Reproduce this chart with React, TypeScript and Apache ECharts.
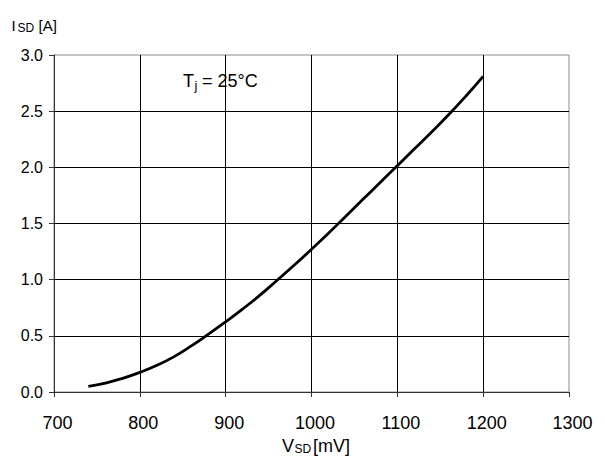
import React, { useEffect, useRef } from "react";
import * as echarts from "echarts";

const vsd = [740, 760, 780, 800, 820, 840, 860, 880, 900, 920, 940, 960, 980, 1000, 1020, 1040, 1060, 1080, 1100, 1120, 1140, 1160, 1180, 1200];
const isd = [0.05, 0.08, 0.122, 0.175, 0.238, 0.315, 0.41, 0.515, 0.625, 0.74, 0.862, 0.995, 1.13, 1.27, 1.415, 1.565, 1.715, 1.865, 2.015, 2.165, 2.315, 2.47, 2.635, 2.81];
const xTicks = [700, 1300, 100];
const yTicks = [0, 3, 0.5];

const FONT = "'Liberation Sans', Arial, sans-serif";

export default function App() {
  const ref = useRef<HTMLDivElement>(null);
  useEffect(() => {
    document.body.style.margin = "0";
    const chart = echarts.init(ref.current!, null, { renderer: "svg" });
    const t = (text: string, x: number, y: number, size: number) => ({
      type: "text",
      x,
      y,
      style: { text, font: `${size}px ${FONT}`, fill: "#000", verticalAlign: "middle", align: "left" },
    });
    chart.setOption({
      animation: false,
      grid: { left: 54, right: 36, top: 55, bottom: 71, show: true, borderColor: "#8c8c8c", borderWidth: 1 },
      xAxis: {
        type: "value",
        min: xTicks[0],
        max: xTicks[1],
        interval: xTicks[2],
        axisLine: { show: true, lineStyle: { color: "#333", width: 1 } },
        axisTick: { show: true, length: 5, lineStyle: { color: "#333" } },
        axisLabel: { color: "#000", fontSize: 18, fontFamily: FONT, margin: 22, padding: [0, 0, 0, 7], formatter: (v: number) => String(v) },
        splitLine: { show: true, showMinLine: false, showMaxLine: false, lineStyle: { color: "#000", width: 1 } },
      },
      yAxis: {
        type: "value",
        min: yTicks[0],
        max: yTicks[1],
        interval: yTicks[2],
        axisLine: { show: true, lineStyle: { color: "#333", width: 1 } },
        axisTick: { show: true, length: 5, lineStyle: { color: "#333" } },
        axisLabel: { color: "#000", fontSize: 16, fontFamily: FONT, margin: 11, padding: [6, 0, 0, 0], formatter: (v: number) => v.toFixed(1) },
        splitLine: { show: true, showMinLine: false, showMaxLine: false, lineStyle: { color: "#000", width: 1 } },
      },
      series: [
        {
          type: "line",
          data: vsd.map((v, i) => [v, isd[i]]),
          smooth: true,
          symbol: "none",
          lineStyle: { color: "#000", width: 2.8 },
        },
      ],
      graphic: [
        t("I", 11.5, 25, 15),
        t("SD", 17.5, 28, 12),
        t("[A]", 38.5, 25, 15),
        t("T", 183, 81.3, 18),
        t("j", 194.5, 85.5, 13),
        t("=", 202, 81.3, 18),
        t("25°C", 217.5, 81.3, 18),
        t("V", 282, 445.7, 18),
        t("SD", 294.5, 449.3, 12),
        t("[mV]", 313, 445.7, 18),
      ],
    });
    return () => chart.dispose();
  }, []);
  return <div ref={ref} style={{ width: 605, height: 463, background: "#fff" }} />;
}
